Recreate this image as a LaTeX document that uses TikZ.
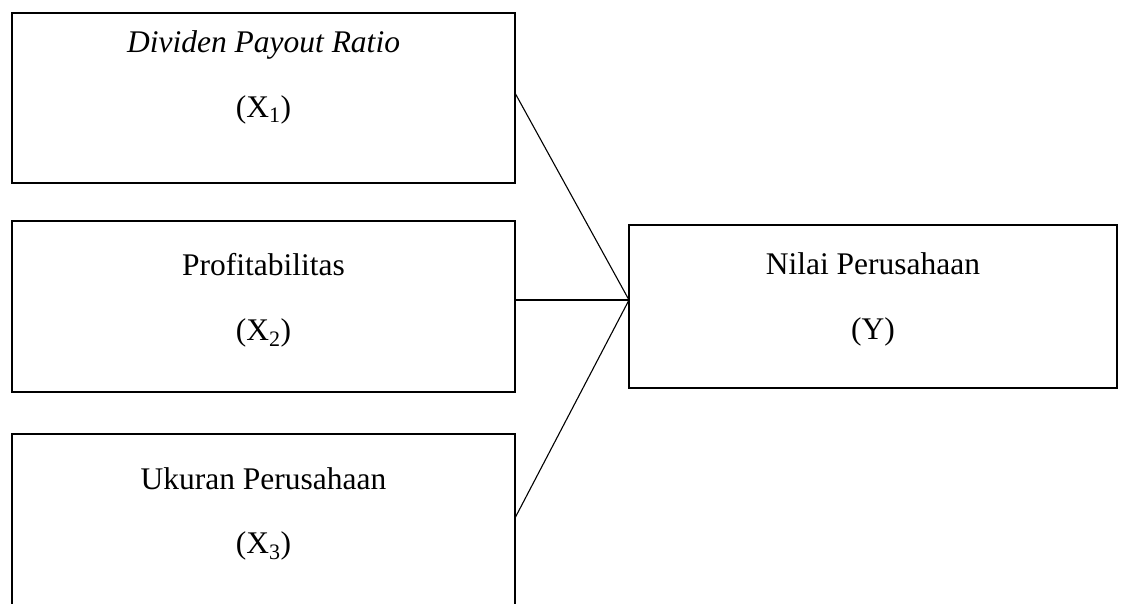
\documentclass[tikz,border=0pt]{standalone}
\usepackage{fontspec}
\setmainfont{Liberation Serif}
\begin{document}
\begin{tikzpicture}[x=1pt,y=-1pt,
  box/.style={draw, line width=2.2pt, inner sep=0pt, outer sep=0pt},
  lbl/.style={anchor=base, inner sep=0pt, font=\fontsize{31.5}{36}\selectfont},
  link/.style={line width=1.1pt}]
\useasboundingbox (0,0) rectangle (1124,603);
\clip (0,0) rectangle (1124,603);
% boxes
\node[box, minimum width=503pt, minimum height=170pt, anchor=north west] (b1) at (12,13) {};
\node[box, minimum width=503pt, minimum height=171pt, anchor=north west] (b2) at (12,221) {};
\node[box, minimum width=503pt, minimum height=200pt, anchor=north west] (b3) at (12,434) {};
\node[box, minimum width=488pt, minimum height=163pt, anchor=north west] (by) at (629,225) {};
% labels
\node[lbl] (t1a) at (263.5,52) {\itshape Dividen Payout Ratio};
\node[lbl] (t1b) at (263.5,117) {(X\textsubscript{1})};
\node[lbl] (t2a) at (263.5,275) {Profitabilitas};
\node[lbl] (t2b) at (263.5,340) {(X\textsubscript{2})};
\node[lbl] (t3a) at (263.5,489) {Ukuran Perusahaan};
\node[lbl] (t3b) at (263.5,553) {(X\textsubscript{3})};
\node[lbl] (tya) at (873,274) {Nilai Perusahaan};
\node[lbl] (tyb) at (873,339) {(Y)};
% connectors
\coordinate (j) at (by.west |- 0,300);
\coordinate (s1) at (b1.east |- 0,93);
\coordinate (s2) at (b2.east |- 0,300);
\coordinate (s3) at (b3.east |- 0,518);
\draw[link] (s1) -- (j);
\draw[link] (s2) -- (j);
\draw[link] (s3) -- (j);
\end{tikzpicture}
\end{document}
